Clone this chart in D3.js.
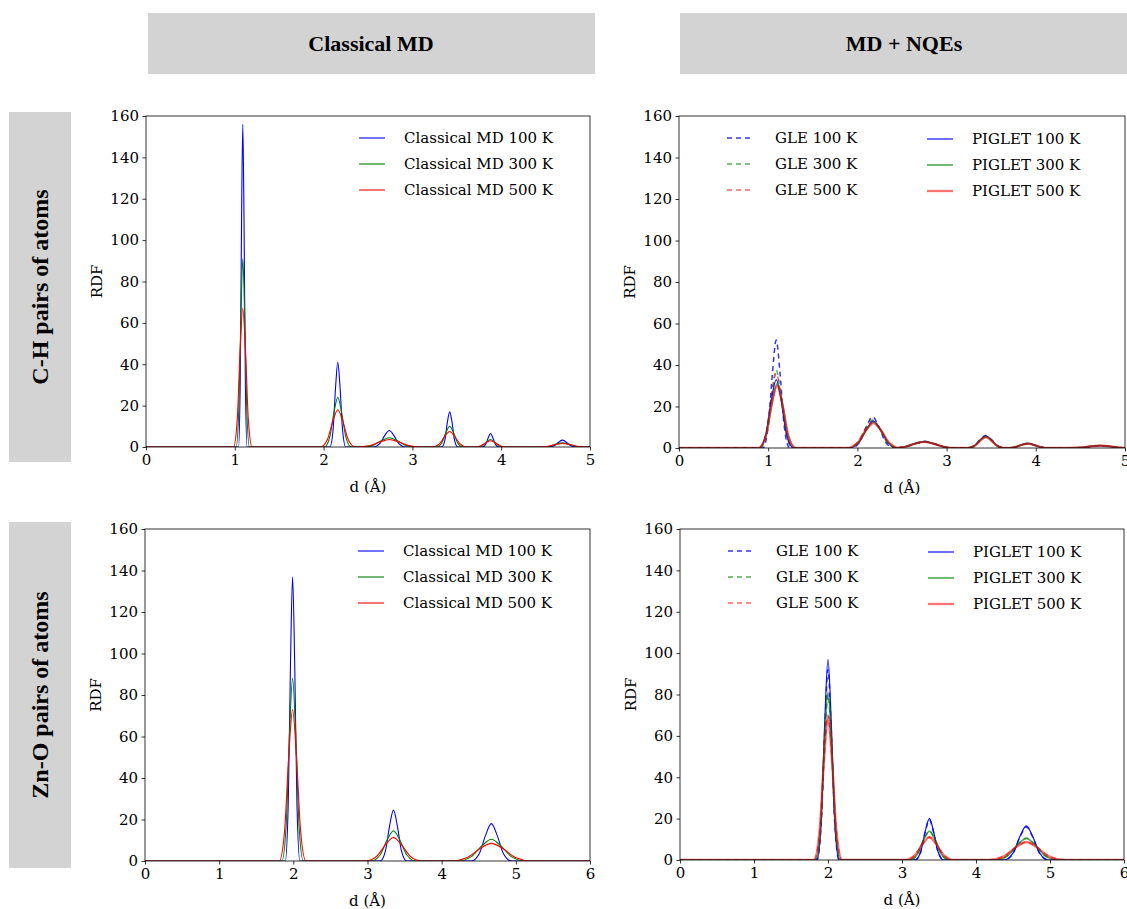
<!DOCTYPE html>
<html>
<head>
<meta charset="utf-8">
<script src="https://cdn.jsdelivr.net/npm/d3@7"></script>
<style>
  html, body { margin: 0; padding: 0; background: #fff; overflow: hidden; }
  svg { display: block; }
  .tick text { font-family: "DejaVu Serif", serif; font-size: 15px; fill: #000; }
  .tick line { stroke: #000; stroke-width: 0.8; }
  .domain { display: none; }
</style>
</head>
<body>
<svg id="chart" width="1127" height="909"></svg>
<script>
// ---------------- DATA ----------------
const colTitles = ["Classical MD", "MD + NQEs"];
const rowTitles = ["C-H pairs of atoms", "Zn-O pairs of atoms"];
const yTicks = [0, 20, 40, 60, 80, 100, 120, 140, 160];
const xTicksCH = [0, 1, 2, 3, 4, 5];
const xTicksZnO = [0, 1, 2, 3, 4, 5, 6];
const temps = ["100 K", "300 K", "500 K"];

// C-H, classical MD  [d (Å), RDF]
const ch_md_100 = [[0,0],[1.042,0],[1.061,31],[1.076,109],[1.09,156],[1.104,109],[1.119,31],[1.138,0],
  [2.07,0],[2.106,8],[2.135,29],[2.16,41],[2.185,29],[2.214,8],[2.25,0],
  [2.56,0],[2.632,1.6],[2.689,5.6],[2.74,8],[2.791,5.6],[2.848,1.6],[2.92,0],
  [3.33,0],[3.366,3.4],[3.394,12],[3.42,17],[3.446,12],[3.474,3.4],[3.51,0],
  [3.79,0],[3.826,1.3],[3.854,4.5],[3.88,6.5],[3.906,4.5],[3.934,1.3],[3.97,0],
  [4.54,0],[4.6,0.7],[4.648,2.3],[4.69,3.3],[4.732,2.3],[4.78,0.7],[4.84,0],[5,0]];
const ch_md_300 = [[0,0],[1.015,0],[1.045,18],[1.069,64],[1.09,91],[1.111,64],[1.135,18],[1.165,0],
  [2.01,0],[2.07,5],[2.118,17],[2.16,24],[2.202,17],[2.25,5],[2.31,0],
  [2.44,0],[2.56,0.9],[2.655,3.2],[2.74,4.5],[2.825,3.2],[2.92,0.9],[3.04,0],
  [3.27,0],[3.33,2],[3.378,7],[3.42,10],[3.462,7],[3.51,2],[3.57,0],
  [3.73,0],[3.79,0.7],[3.838,2.5],[3.88,3.6],[3.922,2.5],[3.97,0.7],[4.03,0],
  [4.45,0],[4.546,0.4],[4.622,1.4],[4.69,2],[4.758,1.4],[4.834,0.4],[4.93,0],[5,0]];
const ch_md_500 = [[0,0],[0.985,0],[1.027,13],[1.06,47],[1.09,67],[1.12,47],[1.153,13],[1.195,0],
  [1.965,0],[2.043,3.6],[2.105,12.6],[2.16,18],[2.215,12.6],[2.277,3.6],[2.355,0],
  [2.38,0],[2.524,0.7],[2.638,2.5],[2.74,3.6],[2.842,2.5],[2.956,0.7],[3.1,0],
  [3.225,0],[3.303,1.5],[3.365,5.2],[3.42,7.5],[3.475,5.2],[3.537,1.5],[3.615,0],
  [3.7,0],[3.772,0.6],[3.829,2.1],[3.88,3],[3.931,2.1],[3.988,0.6],[4.06,0],
  [4.42,0],[4.528,0.34],[4.613,1.2],[4.69,1.7],[4.767,1.2],[4.852,0.34],[4.96,0],[5,0]];

// C-H, GLE
const ch_gle_100 = [[0,0],[0.94,0],[1.0,10.4],[1.0475,36],[1.09,52],[1.1325,36],[1.18,10.4],[1.24,0],
  [1.93,0],[2.026,3],[2.102,10.5],[2.17,15],[2.238,10.5],[2.314,3],[2.41,0],
  [2.39,0],[2.534,0.64],[2.648,2.2],[2.75,3.2],[2.852,2.2],[2.966,0.64],[3.11,0],
  [3.23,0],[3.314,1.2],[3.38,4.2],[3.44,6],[3.5,4.2],[3.566,1.2],[3.65,0],
  [3.67,0],[3.766,0.44],[3.842,1.54],[3.91,2.2],[3.978,1.54],[4.054,0.44],[4.15,0],
  [4.36,0],[4.504,0.22],[4.618,0.77],[4.72,1.1],[4.822,0.77],[4.936,0.22],[5.08,0]];
const ch_gle_300 = [[0,0],[0.91,0],[0.982,7.5],[1.039,26],[1.09,37.5],[1.141,26],[1.198,7.5],[1.27,0],
  [1.9,0],[2.008,2.7],[2.093,9.5],[2.17,13.5],[2.247,9.5],[2.332,2.7],[2.44,0],
  [2.39,0],[2.534,0.6],[2.648,2.1],[2.75,3.0],[2.852,2.1],[2.966,0.6],[3.11,0],
  [3.23,0],[3.314,1.1],[3.38,3.9],[3.44,5.6],[3.5,3.9],[3.566,1.1],[3.65,0],
  [3.67,0],[3.766,0.42],[3.842,1.5],[3.91,2.1],[3.978,1.5],[4.054,0.42],[4.15,0],
  [4.36,0],[4.504,0.22],[4.618,0.77],[4.72,1.1],[4.822,0.77],[4.936,0.22],[5.08,0]];
const ch_gle_500 = [[0,0],[0.904,0],[0.978,7.2],[1.037,25],[1.09,36],[1.143,25],[1.202,7.2],[1.276,0],
  [1.885,0],[1.999,2.6],[2.089,9.1],[2.17,13],[2.251,9.1],[2.341,2.6],[2.455,0],
  [2.39,0],[2.534,0.58],[2.648,2.0],[2.75,2.9],[2.852,2.0],[2.966,0.58],[3.11,0],
  [3.23,0],[3.314,1.05],[3.38,3.7],[3.44,5.3],[3.5,3.7],[3.566,1.05],[3.65,0],
  [3.67,0],[3.766,0.4],[3.842,1.45],[3.91,2.05],[3.978,1.45],[4.054,0.4],[4.15,0],
  [4.36,0],[4.504,0.22],[4.618,0.77],[4.72,1.1],[4.822,0.77],[4.936,0.22],[5.08,0]];
// C-H, PIGLET
const ch_pig_100 = [[0,0],[0.895,0],[0.973,6.6],[1.035,23],[1.09,33],[1.145,23],[1.207,6.6],[1.285,0],
  [1.91,0],[2.018,2.6],[2.103,9.1],[2.18,13],[2.257,9.1],[2.342,2.6],[2.45,0],
  [2.39,0],[2.534,0.6],[2.648,2.1],[2.75,3.0],[2.852,2.1],[2.966,0.6],[3.11,0],
  [3.23,0],[3.314,1.15],[3.38,4.0],[3.44,5.8],[3.5,4.0],[3.566,1.15],[3.65,0],
  [3.67,0],[3.766,0.44],[3.842,1.54],[3.91,2.2],[3.978,1.54],[4.054,0.44],[4.15,0],
  [4.36,0],[4.504,0.22],[4.618,0.77],[4.72,1.1],[4.822,0.77],[4.936,0.22],[5.08,0]];
const ch_pig_300 = [[0,0],[0.896,0],[0.978,6.2],[1.042,21.7],[1.1,31],[1.158,21.7],[1.222,6.2],[1.304,0],
  [1.895,0],[2.009,2.5],[2.099,8.75],[2.18,12.5],[2.261,8.75],[2.351,2.5],[2.465,0],
  [2.39,0],[2.534,0.62],[2.648,2.15],[2.75,3.1],[2.852,2.15],[2.966,0.62],[3.11,0],
  [3.23,0],[3.314,1.1],[3.38,3.9],[3.44,5.5],[3.5,3.9],[3.566,1.1],[3.65,0],
  [3.67,0],[3.766,0.44],[3.842,1.54],[3.91,2.2],[3.978,1.54],[4.054,0.44],[4.15,0],
  [4.36,0],[4.504,0.24],[4.618,0.84],[4.72,1.2],[4.822,0.84],[4.936,0.24],[5.08,0]];
const ch_pig_500 = [[0,0],[0.89,0],[0.974,6],[1.04,21],[1.1,30],[1.16,21],[1.226,6],[1.31,0],
  [1.88,0],[2.0,2.4],[2.095,8.4],[2.18,12],[2.265,8.4],[2.36,2.4],[2.48,0],
  [2.39,0],[2.534,0.6],[2.648,2.1],[2.75,3.0],[2.852,2.1],[2.966,0.6],[3.11,0],
  [3.23,0],[3.314,1.05],[3.38,3.6],[3.44,5.2],[3.5,3.6],[3.566,1.05],[3.65,0],
  [3.67,0],[3.766,0.42],[3.842,1.5],[3.91,2.1],[3.978,1.5],[4.054,0.42],[4.15,0],
  [4.36,0],[4.504,0.24],[4.618,0.84],[4.72,1.2],[4.822,0.84],[4.936,0.24],[5.08,0]];

// Zn-O, classical MD
const zno_md_100 = [[0,0],[1.891,0],[1.931,27],[1.962,96],[1.99,137],[2.018,96],[2.049,27],[2.089,0],
  [3.17,0],[3.242,4.9],[3.299,17.2],[3.35,24.5],[3.401,17.2],[3.458,4.9],[3.53,0],
  [4.4,0],[4.508,3.6],[4.594,12.6],[4.67,18],[4.746,12.6],[4.832,3.6],[4.94,0],[6,0]];
const zno_md_300 = [[0,0],[1.846,0],[1.904,17.6],[1.949,62],[1.99,88],[2.031,62],[2.076,17.6],[2.134,0],
  [3.05,0],[3.17,2.9],[3.265,10.2],[3.35,14.5],[3.435,10.2],[3.53,2.9],[3.65,0],
  [4.22,0],[4.4,2.1],[4.543,7.35],[4.67,10.5],[4.797,7.35],[4.94,2.1],[5.12,0],[6,0]];
const zno_md_500 = [[0,0],[1.81,0],[1.882,14.6],[1.939,51],[1.99,73],[2.041,51],[2.098,14.6],[2.17,0],
  [2.975,0],[3.125,2.3],[3.244,7.9],[3.35,11.3],[3.456,7.9],[3.575,2.3],[3.725,0],
  [4.13,0],[4.346,1.7],[4.517,6],[4.67,8.5],[4.823,6],[4.994,1.7],[5.21,0],[6,0]];
// Zn-O, GLE
const zno_gle_100 = [[0,0],[1.85,0],[1.91,18.4],[1.9575,64],[2.0,92],[2.0425,64],[2.09,18.4],[2.15,0],
  [3.175,0],[3.253,3.9],[3.315,13.7],[3.37,19.5],[3.425,13.7],[3.487,3.9],[3.565,0],
  [4.38,0],[4.5,3.2],[4.595,11.2],[4.68,16],[4.765,11.2],[4.86,3.2],[4.98,0],[6,0]];
const zno_gle_300 = [[0,0],[1.835,0],[1.901,16],[1.953,56],[2.0,80],[2.047,56],[2.099,16],[2.165,0],
  [3.1,0],[3.208,2.8],[3.293,9.8],[3.37,14],[3.447,9.8],[3.532,2.8],[3.64,0],
  [4.26,0],[4.428,2.1],[4.561,7.35],[4.68,10.5],[4.799,7.35],[4.932,2.1],[5.1,0],[6,0]];
const zno_gle_500 = [[0,0],[1.814,0],[1.888,14],[1.947,49],[2.0,70],[2.053,49],[2.112,14],[2.186,0],
  [3.04,0],[3.172,2.2],[3.276,7.7],[3.37,11],[3.464,7.7],[3.568,2.2],[3.7,0],
  [4.17,0],[4.374,1.74],[4.536,6.1],[4.68,8.7],[4.824,6.1],[4.986,1.74],[5.19,0],[6,0]];
// Zn-O, PIGLET
const zno_pig_100 = [[0,0],[1.85,0],[1.91,19.4],[1.9575,68],[2.0,97],[2.0425,68],[2.09,19.4],[2.15,0],
  [3.175,0],[3.253,4],[3.315,14],[3.37,20],[3.425,14],[3.487,4],[3.565,0],
  [4.38,0],[4.5,3.3],[4.595,11.5],[4.68,16.5],[4.765,11.5],[4.86,3.3],[4.98,0],[6,0]];
const zno_pig_300 = [[0,0],[1.832,0],[1.899,16.2],[1.952,57],[2.0,81],[2.048,57],[2.101,16.2],[2.168,0],
  [3.1,0],[3.208,2.8],[3.293,9.8],[3.37,14],[3.447,9.8],[3.532,2.8],[3.64,0],
  [4.26,0],[4.428,2.1],[4.561,7.35],[4.68,10.5],[4.799,7.35],[4.932,2.1],[5.1,0],[6,0]];
const zno_pig_500 = [[0,0],[1.808,0],[1.885,13.8],[1.946,48],[2.0,69],[2.054,48],[2.115,13.8],[2.192,0],
  [3.04,0],[3.172,2.2],[3.276,7.7],[3.37,11],[3.464,7.7],[3.568,2.2],[3.7,0],
  [4.17,0],[4.374,1.74],[4.536,6.1],[4.68,8.7],[4.824,6.1],[4.986,1.74],[5.19,0],[6,0]];

// ---------------- STYLES ----------------
const colors = ["#0000ff", "#008000", "#ff0000"];
const serif = "'DejaVu Serif', serif";
const titleFont = "'Liberation Serif', 'Times New Roman', serif";

const svg = d3.select("#chart");

// header boxes
const headers = [
  { x: 148, y: 13, w: 447, h: 61, cx: 371, text: colTitles[0] },
  { x: 680, y: 13, w: 450, h: 61, cx: 904, text: colTitles[1] }
];
headers.forEach(hd => {
  svg.append("rect").attr("x", hd.x).attr("y", hd.y).attr("width", hd.w).attr("height", hd.h).attr("fill", "#d3d3d3");
  svg.append("text").attr("x", hd.cx).attr("y", hd.y + hd.h / 2 + 7)
    .attr("text-anchor", "middle").attr("font-family", titleFont).attr("font-weight", "bold")
    .attr("font-size", 22).text(hd.text);
});
const rows = [
  { y: 112, h: 350, text: rowTitles[0] },
  { y: 522, h: 346, text: rowTitles[1] }
];
rows.forEach(r => {
  svg.append("rect").attr("x", 9).attr("y", r.y).attr("width", 62).attr("height", r.h).attr("fill", "#d3d3d3");
  const cy = r.y + r.h / 2;
  svg.append("text").attr("transform", `translate(48,${cy}) rotate(-90)`)
    .attr("text-anchor", "middle").attr("font-family", titleFont).attr("font-weight", "bold")
    .attr("font-size", 24).text(r.text);
});

// panels
const panels = [
  { l: 146, t: 116, r: 590, b: 447, xmax: 5, xt: xTicksCH, nqe: false,
    series: [ch_md_100, ch_md_300, ch_md_500] },
  { l: 679, t: 116, r: 1125, b: 448, xmax: 5, xt: xTicksCH, nqe: true,
    gle: [ch_gle_100, ch_gle_300, ch_gle_500], pig: [ch_pig_100, ch_pig_300, ch_pig_500] },
  { l: 145, t: 529, r: 590, b: 861, xmax: 6, xt: xTicksZnO, nqe: false,
    series: [zno_md_100, zno_md_300, zno_md_500] },
  { l: 680, t: 529, r: 1124, b: 860, xmax: 6, xt: xTicksZnO, nqe: true,
    gle: [zno_gle_100, zno_gle_300, zno_gle_500], pig: [zno_pig_100, zno_pig_300, zno_pig_500] }
];

const gleOpacity = [0.8, 0.65, 0.6];
const pigWidth = [1.2, 1.7, 2.3];
const pigOpacity = [0.95, 0.65, 0.55];

panels.forEach((p, i) => {
  const x = d3.scaleLinear().domain([0, p.xmax]).range([p.l, p.r]);
  const y = d3.scaleLinear().domain([0, 160]).range([p.b, p.t]);
  const g = svg.append("g");
  const clipId = "clip" + i;
  svg.append("clipPath").attr("id", clipId).append("rect")
    .attr("x", p.l).attr("y", p.t).attr("width", p.r - p.l).attr("height", p.b - p.t);

  const line = d3.line().x(d => x(d[0])).y(d => y(d[1])).curve(d3.curveMonotoneX);
  const plot = g.append("g").attr("clip-path", `url(#${clipId})`);

  if (!p.nqe) {
    p.series.forEach((s, k) => {
      plot.append("path").datum(s).attr("d", line).attr("fill", "none")
        .attr("stroke", colors[k]).attr("stroke-width", 1.1);
    });
  } else {
    p.gle.forEach((s, k) => {
      plot.append("path").datum(s).attr("d", line).attr("fill", "none")
        .attr("stroke", colors[k]).attr("stroke-width", 1.5).attr("stroke-opacity", gleOpacity[k])
        .attr("stroke-dasharray", "5,4");
    });
    p.pig.forEach((s, k) => {
      plot.append("path").datum(s).attr("d", line).attr("fill", "none")
        .attr("stroke", colors[k]).attr("stroke-width", pigWidth[k]).attr("stroke-opacity", pigOpacity[k]);
    });
  }

  // frame
  g.append("rect").attr("x", p.l).attr("y", p.t).attr("width", p.r - p.l).attr("height", p.b - p.t)
    .attr("fill", "none").attr("stroke", "#000").attr("stroke-width", 0.8);

  // axes
  g.append("g").attr("transform", `translate(0,${p.b})`)
    .call(d3.axisBottom(x).tickValues(p.xt).tickFormat(d3.format("d")).tickSize(3.5).tickPadding(3.5));
  g.append("g").attr("transform", `translate(${p.l},0)`)
    .call(d3.axisLeft(y).tickValues(yTicks).tickFormat(d3.format("d")).tickSize(3.5).tickPadding(3.5));

  // axis labels
  g.append("text").attr("x", (p.l + p.r) / 2).attr("y", p.b + 45).attr("text-anchor", "middle")
    .attr("font-family", serif).attr("font-size", 15).text("d (Å)");
  g.append("text").attr("transform", `translate(${p.l - 44},${(p.t + p.b) / 2}) rotate(-90)`)
    .attr("text-anchor", "middle").attr("font-family", serif).attr("font-size", 15).text("RDF");

  // legends
  const ly0 = p.t + 22, ldy = 26;
  if (!p.nqe) {
    const lx = p.l + 213;
    temps.forEach((t, k) => {
      const yy = ly0 + k * ldy;
      g.append("line").attr("x1", lx).attr("x2", lx + 26).attr("y1", yy).attr("y2", yy)
        .attr("stroke", colors[k]).attr("stroke-width", 1.1);
      g.append("text").attr("x", lx + 45).attr("y", yy + 5).attr("font-family", serif)
        .attr("font-size", 15).text("Classical MD " + t);
    });
  } else {
    const lx1 = p.l + 48, lx2 = p.l + 248;
    temps.forEach((t, k) => {
      const yy = ly0 + k * ldy;
      g.append("line").attr("x1", lx1).attr("x2", lx1 + 26).attr("y1", yy).attr("y2", yy)
        .attr("stroke", colors[k]).attr("stroke-width", 1.5).attr("stroke-opacity", gleOpacity[k])
        .attr("stroke-dasharray", "5,4");
      g.append("text").attr("x", lx1 + 48).attr("y", yy + 5).attr("font-family", serif)
        .attr("font-size", 15).text("GLE " + t);
      g.append("line").attr("x1", lx2).attr("x2", lx2 + 26).attr("y1", yy + 1).attr("y2", yy + 1)
        .attr("stroke", colors[k]).attr("stroke-width", pigWidth[k]).attr("stroke-opacity", pigOpacity[k]);
      g.append("text").attr("x", lx2 + 45).attr("y", yy + 6).attr("font-family", serif)
        .attr("font-size", 15).text("PIGLET " + t);
    });
  }
});
</script>
</body>
</html>
